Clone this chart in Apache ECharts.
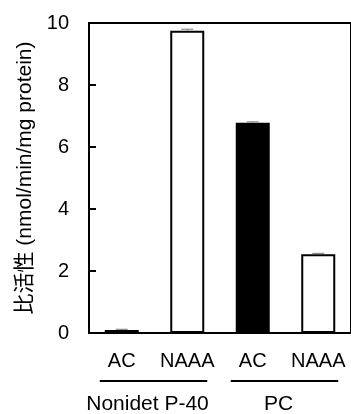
<!DOCTYPE html>
<html><head><meta charset="utf-8">
<script src="https://cdn.jsdelivr.net/npm/echarts@6/dist/echarts.min.js"></script>
<style>html,body{margin:0;padding:0;background:#fff}#c{width:351px;height:414px}</style>
</head><body><div id="c"></div>
<script>
const categories = ['AC', 'NAAA', 'AC', 'NAAA'];
const groups = ['Nonidet P-40', 'PC'];
const groupSpans = [[0, 1], [2, 3]];
const values = [0.1, 9.75, 6.78, 2.54];
const errors = [0.02, 0.05, 0.03, 0.03];
const fills = ['#000000', '#ffffff', '#000000', '#ffffff'];
const yTicks = [0, 2, 4, 6, 8, 10];

const FONT = '"Liberation Sans", Arial, "Noto Sans CJK JP", sans-serif';
const chart = echarts.init(document.getElementById('c'), null, {renderer: 'canvas'});

const option = {
  animation: false,
  backgroundColor: '#fff',
  grid: {left: 89, top: 23, width: 270, height: 310, show: true, borderColor: '#000', borderWidth: 2, containLabel: false},
  xAxis: {
    type: 'category', data: categories,
    axisLine: {lineStyle: {color: '#000', width: 2}},
    axisTick: {show: false},
    axisLabel: {color: '#000', fontSize: 20, fontFamily: FONT, margin: 18, interval: 0}
  },
  yAxis: {
    type: 'value', min: 0, max: 10, interval: 2,
    name: '比活性 (nmol/min/mg protein)', nameLocation: 'middle', nameGap: 53,
    nameTextStyle: {color: '#000', fontSize: 21, fontFamily: FONT},
    axisLine: {show: true, lineStyle: {color: '#000', width: 2}},
    axisTick: {show: true, inside: true, length: 7, lineStyle: {color: '#000', width: 2}},
    splitLine: {show: false},
    axisLabel: {color: '#000', fontSize: 20, fontFamily: FONT, margin: 20,
      formatter: v => yTicks.includes(v) ? String(v) : ''}
  },
  series: [{
    type: 'bar', barWidth: 34,
    data: values.map((v, i) => ({value: v, itemStyle: {color: fills[i], borderColor: '#000', borderWidth: 2}})),
    z: 2
  }, {
    type: 'custom', z: 3,
    data: values.map((v, i) => [i, v, errors[i]]),
    renderItem: function (params, api) {
      const x = api.value(0), v = api.value(1), e = api.value(2);
      const top = api.coord([x, v + e]);
      const base = api.coord([x, v]);
      const hw = 6;
      return {type: 'group', children: [
        {type: 'line', shape: {x1: top[0], y1: top[1], x2: top[0], y2: base[1]}, style: {stroke: '#777', lineWidth: 1}},
        {type: 'line', shape: {x1: top[0] - hw, y1: top[1], x2: top[0] + hw, y2: top[1]}, style: {stroke: '#777', lineWidth: 1}}
      ]};
    }
  }]
};
chart.setOption(option);

const graphics = [];
groups.forEach((g, k) => {
  const a = chart.convertToPixel({xAxisIndex: 0}, groupSpans[k][0]);
  const b = chart.convertToPixel({xAxisIndex: 0}, groupSpans[k][1]);
  const x1 = a - 22, x2 = b + 20;
  const baseY = chart.convertToPixel({yAxisIndex: 0}, 0);
  graphics.push({type: 'line', shape: {x1: x1, y1: baseY + 48, x2: x2, y2: baseY + 48}, style: {stroke: '#000', lineWidth: 2}});
  graphics.push({type: 'text', x: (x1 + x2) / 2 - 6, y: baseY + 71, style: {text: g, fill: '#000', font: '21px ' + FONT, textAlign: 'center', textVerticalAlign: 'middle'}});
});
chart.setOption({graphic: graphics});
</script></body></html>
